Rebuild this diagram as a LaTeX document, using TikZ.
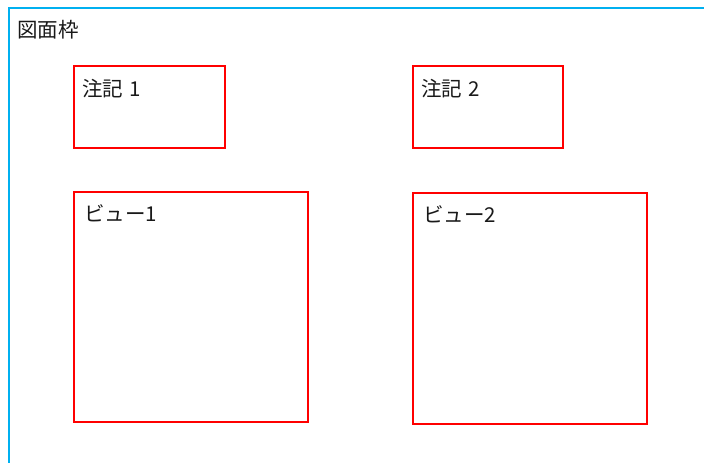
\documentclass[tikz,border=0pt]{standalone}
\usepackage{fontspec}
\newfontfamily\jp{Noto Sans CJK JP}
\definecolor{framecol}{RGB}{0,176,240}
\definecolor{boxcol}{RGB}{255,0,0}
\begin{document}
\begin{tikzpicture}[x=1pt,y=-1pt,
  frameline/.style={draw=framecol,line width=2pt},
  areabox/.style={draw=boxcol,line width=2pt,rectangle,inner sep=0pt,anchor=north west},
  lbl/.style={font=\jp\fontsize{20.5}{24}\selectfont,inner sep=0pt,anchor=base west,text=black!90}]
\useasboundingbox (0,0) rectangle (704,463);
\clip (0,0) rectangle (704,463);
\node[frameline,rectangle,inner sep=0pt,anchor=north west,minimum width=720pt,minimum height=480pt] (frame) at (8,7) {};
\node[lbl] (frametext) at (17,37) {図面枠};
\node[areabox,minimum width=151pt,minimum height=82pt] (note1) at (73,65) {};
\node[areabox,minimum width=150pt,minimum height=82pt] (note2) at (412,65) {};
\node[areabox,minimum width=234pt,minimum height=230pt] (view1) at (73,191) {};
\node[areabox,minimum width=234pt,minimum height=231pt] (view2) at (412,192) {};
\node[lbl] (note1text) at ([shift={(9,31)}]note1.north west) {注記\hspace{0.3em}1};
\node[lbl] (note2text) at ([shift={(9,31)}]note2.north west) {注記\hspace{0.3em}2};
\node[lbl] (view1text) at ([shift={(11,30)}]view1.north west) {ビュー1};
\node[lbl] (view2text) at ([shift={(11,30)}]view2.north west) {ビュー2};
\end{tikzpicture}
\end{document}
